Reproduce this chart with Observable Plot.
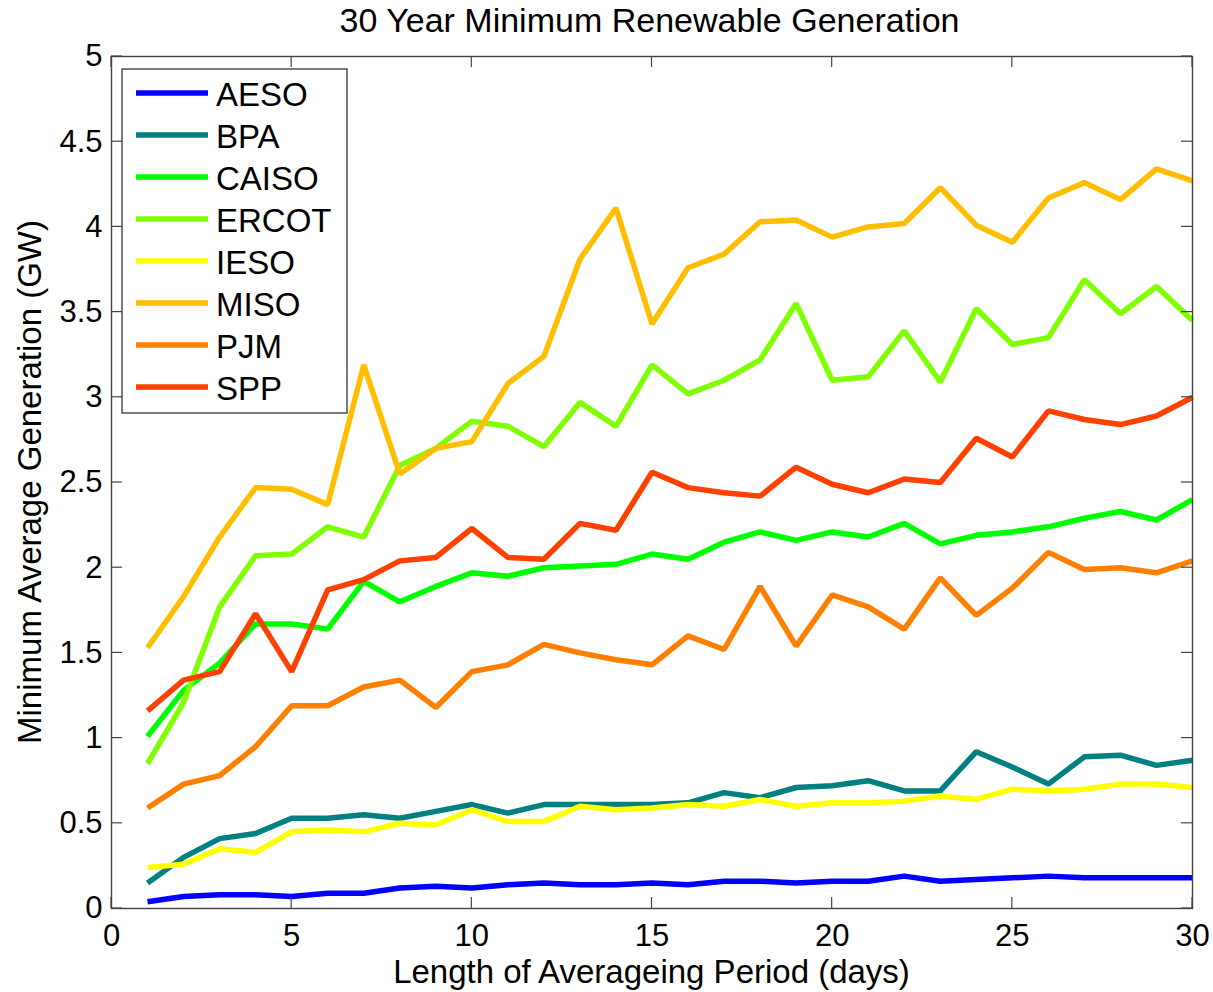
<!DOCTYPE html>
<html>
<head>
<meta charset="utf-8">
<script src="https://cdn.jsdelivr.net/npm/d3@7"></script>
<script src="https://cdn.jsdelivr.net/npm/@observablehq/plot@0.6"></script>
<style>
  html, body { margin: 0; padding: 0; background: #fff; }
  #wrap { position: relative; width: 1213px; height: 992px; font-family: "Liberation Sans", Arial, sans-serif; }
  #title { position: absolute; left: 0; top: 0; width: 1213px; height: 40px; text-align: center; font-size: 34px; line-height: 40px; color: #000; padding-left: 86px; box-sizing: border-box; }
  #chart { position: absolute; left: 0; top: 40px; }
</style>
</head>
<body>
<div id="wrap">
  <div id="title">30 Year Minimum Renewable Generation</div>
  <div id="chart"></div>
</div>
<script>
// ---- data ----
const days = [1,2,3,4,5,6,7,8,9,10,11,12,13,14,15,16,17,18,19,20,21,22,23,24,25,26,27,28,29,30];
const regions = ["AESO","BPA","CAISO","ERCOT","IESO","MISO","PJM","SPP"];
const colors  = ["#0000FF","#008080","#00FF00","#80FF00","#FFFF00","#FFBF00","#FF8000","#FF4000"];

const aeso  = [0.04,0.07,0.08,0.08,0.07,0.09,0.09,0.12,0.13,0.12,0.14,0.15,0.14,0.14,0.15,0.14,0.16,0.16,0.15,0.16,0.16,0.19,0.16,0.17,0.18,0.19,0.18,0.18,0.18,0.18];
const bpa   = [0.15,0.30,0.41,0.44,0.53,0.53,0.55,0.53,0.57,0.61,0.56,0.61,0.61,0.61,0.61,0.62,0.68,0.65,0.71,0.72,0.75,0.69,0.69,0.92,0.83,0.73,0.89,0.90,0.84,0.87];
const caiso = [1.01,1.28,1.44,1.67,1.67,1.64,1.92,1.80,1.89,1.97,1.95,2.00,2.01,2.02,2.08,2.05,2.15,2.21,2.16,2.21,2.18,2.26,2.14,2.19,2.21,2.24,2.29,2.33,2.28,2.40];
const ercot = [0.85,1.21,1.77,2.07,2.08,2.24,2.18,2.60,2.70,2.86,2.83,2.71,2.97,2.83,3.19,3.02,3.10,3.22,3.55,3.10,3.12,3.39,3.09,3.52,3.31,3.35,3.69,3.49,3.65,3.45];
const ieso  = [0.24,0.26,0.35,0.33,0.45,0.46,0.45,0.50,0.49,0.58,0.51,0.51,0.60,0.58,0.59,0.61,0.60,0.64,0.60,0.62,0.62,0.63,0.66,0.64,0.70,0.69,0.70,0.73,0.73,0.71];
const miso  = [1.53,1.83,2.18,2.47,2.46,2.37,3.19,2.55,2.70,2.74,3.08,3.24,3.81,4.11,3.43,3.76,3.84,4.03,4.04,3.94,4.00,4.02,4.23,4.01,3.91,4.17,4.26,4.16,4.34,4.27];
const pjm   = [0.59,0.73,0.78,0.95,1.19,1.19,1.30,1.34,1.18,1.39,1.43,1.55,1.50,1.46,1.43,1.60,1.52,1.89,1.54,1.84,1.77,1.64,1.94,1.72,1.88,2.09,1.99,2.00,1.97,2.04];
const spp   = [1.16,1.34,1.39,1.73,1.39,1.87,1.93,2.04,2.06,2.23,2.06,2.05,2.26,2.22,2.56,2.47,2.44,2.42,2.59,2.49,2.44,2.52,2.50,2.76,2.65,2.92,2.87,2.84,2.89,3.00];

const xTicks = [0,5,10,15,20,25,30];
const yTicks = [0,0.5,1,1.5,2,2.5,3,3.5,4,4.5,5];
const xLabel = "Length of Averageing Period (days)";
const yLabel = "Minimum Average Generation (GW)";

// ---- table ----
const seriesValues = [aeso,bpa,caiso,ercot,ieso,miso,pjm,spp];
const table = [];
regions.forEach((r,i) => days.forEach((d,j) => table.push({region: r, day: d, value: seriesValues[i][j]})));

// ---- layout ----
const W = 1213, H = 952;
const mL = 111, mR = 21, mT = 16, mB = 84;
const FONT = "Liberation Sans, Arial, sans-serif";

const plot = Plot.plot({
  width: W, height: H,
  marginLeft: mL, marginRight: mR, marginTop: mT, marginBottom: mB,
  style: {fontFamily: FONT, fontSize: "31px", color: "#000", background: "#fff", overflow: "visible"},
  x: {domain: [0, 30]},
  y: {domain: [0, 5]},
  color: {domain: regions, range: colors},
  marks: [
    Plot.axisX(xTicks, {anchor: "bottom", tickSize: 0, tickPadding: 15, label: null, fontSize: 31}),
    Plot.axisY(yTicks, {anchor: "left", tickSize: 0, tickPadding: 9, tickFormat: d => String(d), label: null, fontSize: 31}),
    Plot.lineY(table, {x: "day", y: "value", z: "region", stroke: "region", strokeWidth: 5.5, strokeLinejoin: "miter", strokeLinecap: "butt"}),
    Plot.frame({stroke: "#444", strokeWidth: 1.4})
  ]
});

const svg = d3.select(plot);
const xs = plot.scale("x"), ys = plot.scale("y");
const TL = 11;
const fTop = mT, fBottom = H - mB, fLeft = mL, fRight = W - mR;
const tg = svg.append("g").attr("stroke", "#444").attr("stroke-width", 1.2);
xTicks.forEach(t => {
  const px = xs.apply(t);
  tg.append("line").attr("x1", px).attr("x2", px).attr("y1", fBottom).attr("y2", fBottom - TL);
  tg.append("line").attr("x1", px).attr("x2", px).attr("y1", fTop).attr("y2", fTop + TL);
});
yTicks.forEach(t => {
  const py = ys.apply(t);
  tg.append("line").attr("x1", fLeft).attr("x2", fLeft + TL).attr("y1", py).attr("y2", py);
  tg.append("line").attr("x1", fRight).attr("x2", fRight - TL).attr("y1", py).attr("y2", py);
});

// axis labels
svg.append("text").attr("x", (fLeft + fRight) / 2).attr("y", fBottom + 75)
  .attr("text-anchor", "middle").attr("font-family", FONT).attr("font-size", 33).attr("fill", "#000").text(xLabel);
svg.append("text").attr("transform", `translate(41,${(fTop + fBottom) / 2}) rotate(-90)`)
  .attr("text-anchor", "middle").attr("font-family", FONT).attr("font-size", 33).attr("fill", "#000").text(yLabel);

// legend
const lg = svg.append("g").attr("transform", `translate(122,${69 - 40})`);
lg.append("rect").attr("x", 0).attr("y", 0).attr("width", 225).attr("height", 344)
  .attr("fill", "#fff").attr("stroke", "#444").attr("stroke-width", 1.4);
regions.forEach((r, i) => {
  const yy = 24 + i * 42;
  lg.append("line").attr("x1", 14).attr("x2", 86).attr("y1", yy).attr("y2", yy)
    .attr("stroke", colors[i]).attr("stroke-width", 5.5);
  lg.append("text").attr("x", 94).attr("y", yy + 13).attr("text-anchor", "start")
    .attr("font-family", FONT).attr("font-size", 33).attr("fill", "#000").text(r);
});

document.getElementById("chart").appendChild(plot);
</script>
</body>
</html>
